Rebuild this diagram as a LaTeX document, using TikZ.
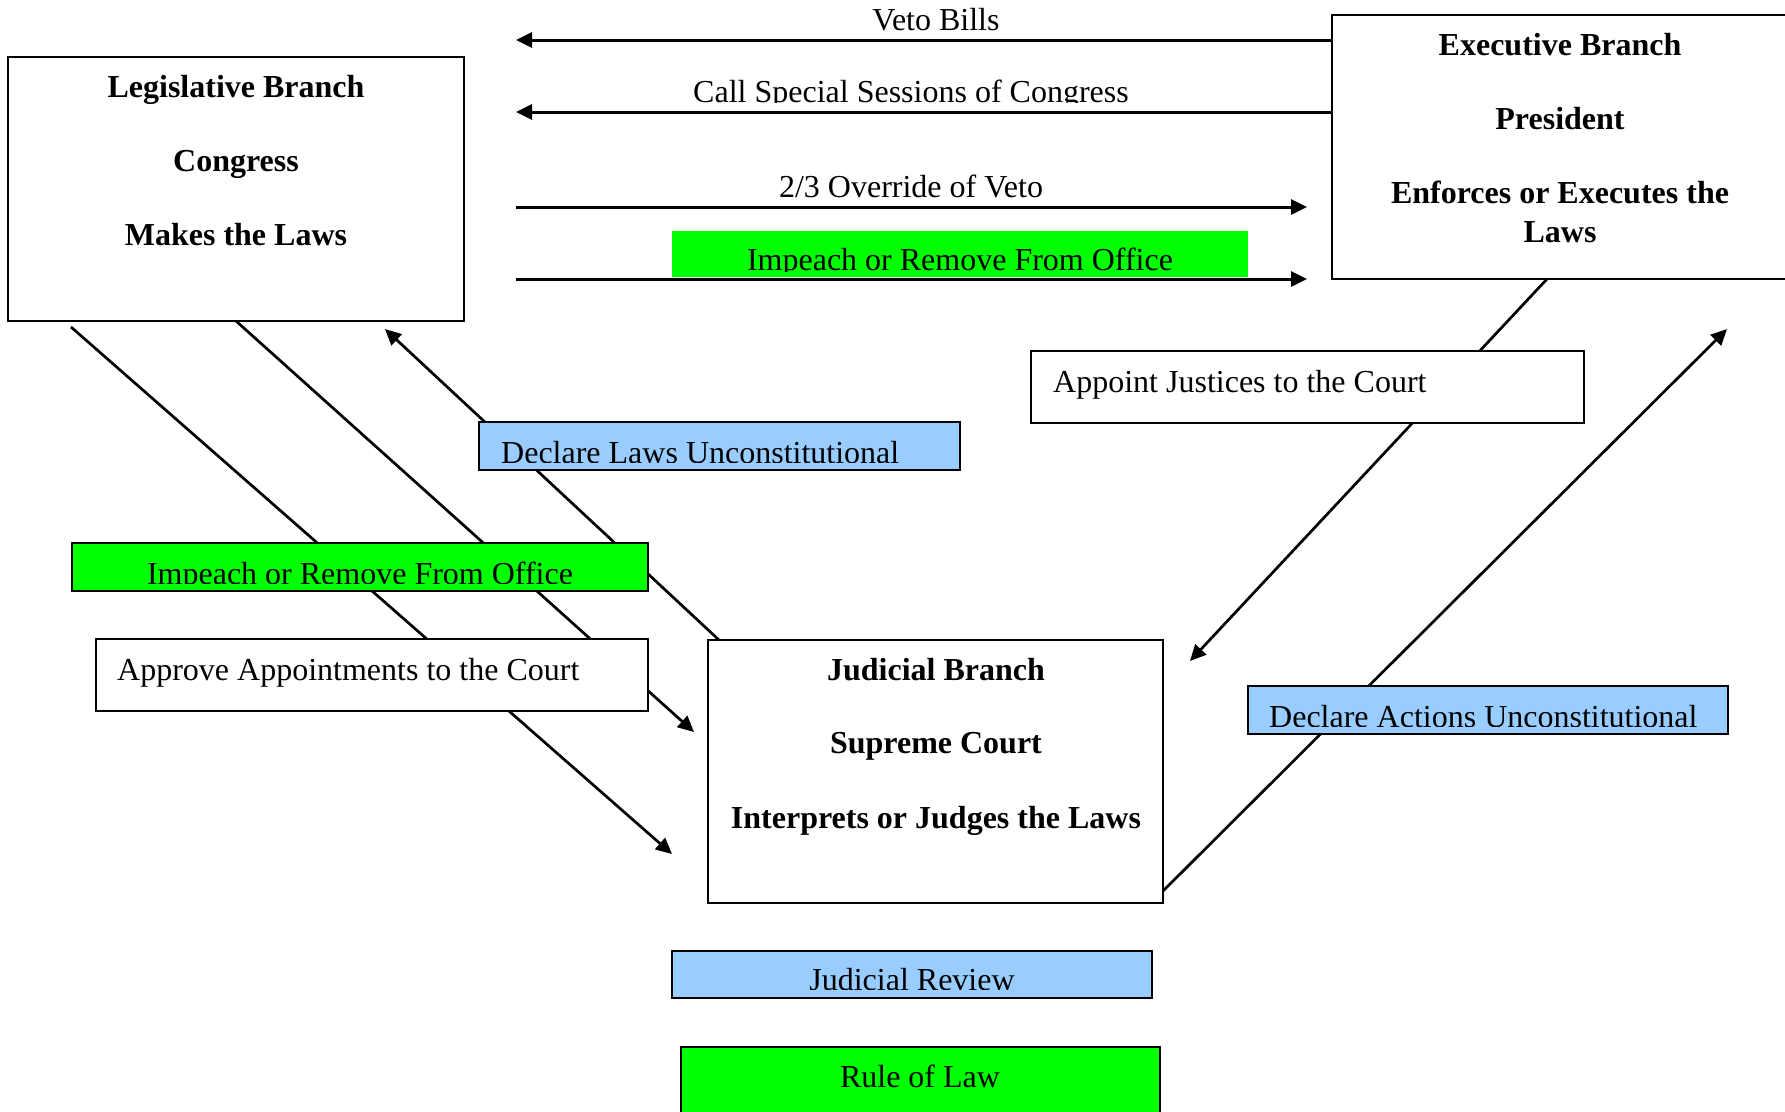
\documentclass[tikz,border=0pt]{standalone}
\usepackage{fontspec}
\setmainfont{Liberation Serif}
\usetikzlibrary{arrows.meta}
\pgfdeclarelayer{paper}
\pgfdeclarelayer{bg}
\pgfsetlayers{paper,bg,main}
\definecolor{brgreen}{HTML}{00FF00}
\definecolor{ltblue}{HTML}{99CCFF}
\begin{document}
\begin{tikzpicture}[x=1pt,y=-1pt,
  box/.style={draw, line width=2pt, inner sep=0pt, outer sep=0pt, anchor=north west},
  conn/.style={line width=2.7pt},
  arr/.style={conn,-{Triangle[length=16pt,width=15pt]}},
  harr/.style={arr, line width=3pt},
  lbl/.style={font=\fontsize{32}{38}\selectfont, inner sep=0pt},
  ttl/.style={font=\bfseries\fontsize{32}{38}\selectfont, inner sep=0pt, anchor=base}
]
\useasboundingbox (0,0) rectangle (1785,1111);
\begin{pgfonlayer}{paper}
\fill[white] (0,0) rectangle (1785,1111);
\end{pgfonlayer}

% main boxes
\node[box, minimum width=456pt, minimum height=264pt] (leg) at (8,57) {};
\node[box, minimum width=468pt, minimum height=264pt] (exec) at (1332,15) {};
\node[box, minimum width=455pt, minimum height=263pt] (jud) at (708,640) {};

% label boxes
\node[box, draw=none, fill=brgreen, minimum width=576pt, minimum height=46pt] (imtop) at (672,231) {};
\node[box, fill=ltblue, minimum width=481pt, minimum height=48pt] (dlaws) at (479,422) {};
\node[box, fill=brgreen, minimum width=576pt, minimum height=48pt] (imleft) at (72,543) {};
\node[box, fill=white, minimum width=552pt, minimum height=72pt] (approve) at (96,639) {};
\node[box, fill=white, minimum width=553pt, minimum height=72pt] (appoint) at (1031,351) {};
\node[box, fill=ltblue, minimum width=480pt, minimum height=48pt] (dact) at (1248,686) {};
\node[box, fill=ltblue, minimum width=480pt, minimum height=47pt] (jrev) at (672,951) {};
\node[box, fill=brgreen, minimum width=479pt, minimum height=80pt] (rule) at (681,1047) {};

% titles
\node[ttl] (t1) at (236,97) {Legislative Branch};
\node[ttl] (t2) at (236,171) {Congress};
\node[ttl] (t3) at (236,245) {Makes the Laws};
\node[ttl] (t4) at (1560,55) {Executive Branch};
\node[ttl] (t5) at (1560,129) {President};
\node[ttl] (t6) at (1560,203) {Enforces or Executes the};
\node[ttl] (t7) at (1560,242) {Laws};
\node[ttl] (t8) at (936,680) {Judicial Branch};
\node[ttl] (t9) at (936,753) {Supreme Court};
\node[ttl] (t10) at (936,828) {Interprets or Judges the Laws};

% connector end points
\coordinate (vetoL) at (516,40);
\coordinate (callL) at (516,112);
\coordinate (ovL) at (516,207);
\coordinate (ovR) at (1307,207);
\coordinate (imL) at (516,279);
\coordinate (imR) at (1307,279);
\coordinate (l1s) at (71,327);
\coordinate (l1e) at (672,854);
\coordinate (l2e) at (694,732);
\coordinate (l3s) at (719,640);
\coordinate (l3e) at (385,329);
\coordinate (e1s) at (1547,279);
\coordinate (e1e) at (1190,661);
\coordinate (j1s) at (1163,891);
\coordinate (j1e) at (1727,329);

\begin{pgfonlayer}{bg}
\draw[harr] (exec.west |- vetoL) -- (vetoL);
\draw[harr] (exec.west |- callL) -- (callL);
\draw[harr] (ovL) -- (ovR);
\draw[harr] (imL) -- (imR);
\draw[arr] (l1s) -- (l1e);
\draw[arr] (leg.south) -- (l2e);
\draw[arr] (l3s) -- (l3e);
\draw[arr] (e1s) -- (e1e);
\draw[arr] (j1s) -- (j1e);
\end{pgfonlayer}

% labels
\node[lbl, anchor=base] (veto) at (936,30) {Veto Bills};
\begin{scope}
\clip (600,60) rectangle (1250,102);
\node[lbl, anchor=base] (call) at (911,102) {Call Special Sessions of Congress};
\end{scope}
\node[lbl, anchor=base] (over) at (911,197) {2/3 Override of Veto};
\begin{scope}
\clip (672,231) rectangle (1248,271);
\node[lbl, anchor=base] (imtxt) at (960,270) {Impeach or Remove From Office};
\end{scope}
\begin{scope}
\clip (479,422) rectangle (960,462);
\node[lbl, anchor=base west] (dltxt) at (501,463) {Declare Laws Unconstitutional};
\end{scope}
\begin{scope}
\clip (72,543) rectangle (648,583);
\node[lbl, anchor=base] (imltxt) at (360,584) {Impeach or Remove From Office};
\end{scope}
\node[lbl, anchor=base west] (aptxt) at (117,680) {Approve Appointments to the Court};
\node[lbl, anchor=base west] (ajtxt) at (1053,392) {Appoint Justices to the Court};
\begin{scope}
\clip (1248,686) rectangle (1728,726);
\node[lbl, anchor=base west] (datxt) at (1269,727) {Declare Actions Unconstitutional};
\end{scope}
\begin{scope}
\clip (672,951) rectangle (1152,989);
\node[lbl, anchor=base] (jrtxt) at (912,990) {Judicial Review};
\end{scope}
\node[lbl, anchor=base] (rltxt) at (920,1087) {Rule of Law};
\end{tikzpicture}
\end{document}
